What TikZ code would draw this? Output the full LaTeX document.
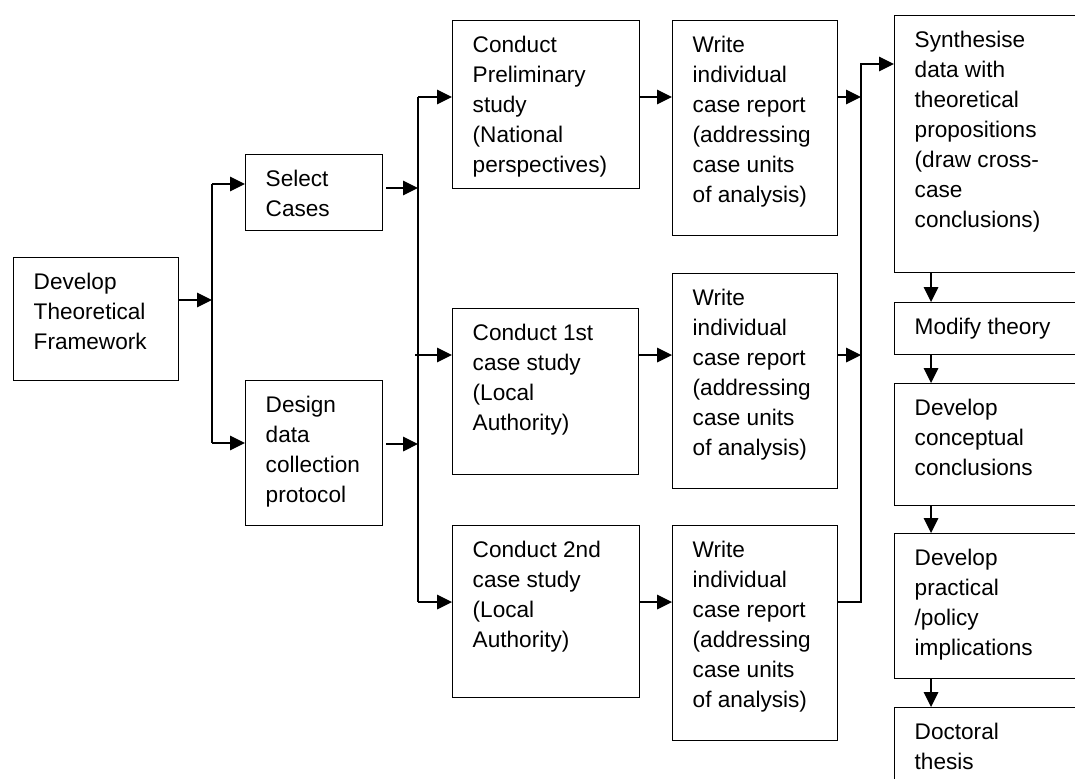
\documentclass[tikz,border=0pt]{standalone}
\usepackage{fontspec}
\setmainfont{Liberation Sans}
\usepackage{tikz}
\usetikzlibrary{arrows.meta}

% box text: width and height in pixels, text set from the top
\newcommand{\boxtext}[3]{\parbox[c][\dimexpr#2pt/2\relax][t]{\dimexpr#1pt/2-20pt\relax}{\raggedright\rule{0pt}{16pt}#3}}

\begin{document}
\begin{tikzpicture}[x=0.5pt,y=-0.5pt,line width=0.7pt,
		blk/.style={draw,anchor=north west,inner xsep=10pt,inner ysep=0pt,
			font=\fontsize{11.3}{15}\selectfont},
		arr/.style={-{Triangle[length=7.5pt,width=7.3pt]}}]
		\useasboundingbox (0,0) rectangle (1075,778);
		\clip (0,0) rectangle (1075,778);
		%
		\node[blk] (dev) at (13,257) {\boxtext{165}{123}{Develop\\Theoretical\\Framework}};
		\node[blk] (sel) at (245,154) {\boxtext{137}{76}{Select\\Cases}};
		\node[blk] (des) at (245,380) {\boxtext{137}{145}{Design\\data\\collection\\protocol}};
		\node[blk] (cpre) at (452,20) {\boxtext{187}{168}{Conduct\\Preliminary\\study\\(National\\perspectives)}};
		\node[blk] (c1) at (452,308) {\boxtext{186}{166}{Conduct 1st\\case study\\(Local\\Authority)}};
		\node[blk] (c2) at (452,525) {\boxtext{187}{172}{Conduct 2nd\\case study\\(Local\\Authority)}};
		\node[blk] (w1) at (672,20) {\boxtext{165}{215}{Write\\individual\\case report\\(addressing\\case units\\of analysis)}};
		\node[blk] (w2) at (672,273) {\boxtext{165}{215}{Write\\individual\\case report\\(addressing\\case units\\of analysis)}};
		\node[blk] (w3) at (672,525) {\boxtext{165}{215}{Write\\individual\\case report\\(addressing\\case units\\of analysis)}};
		\node[blk] (syn) at (894,15) {\boxtext{200}{257}{Synthesise\\data with\\theoretical\\propositions\\(draw cross-\\case\\conclusions)}};
		\node[blk] (mod) at (894,302) {\boxtext{200}{52}{Modify theory}};
		\node[blk] (con) at (894,383) {\boxtext{200}{122}{Develop\\conceptual\\conclusions}};
		\node[blk] (pra) at (894,533) {\boxtext{200}{145}{Develop\\practical\\/policy\\implications}};
		\node[blk] (doc) at (894,707) {\boxtext{200}{110}{Doctoral\\thesis}};
		%
		\coordinate (r1) at (0,97);
		\coordinate (r2) at (0,355);
		\coordinate (r3) at (0,602);
		\coordinate (s1) at (0,188);
		\coordinate (s2) at (0,444);
		\coordinate (bA) at (212,300);
		\coordinate (bAt) at (212,184);
		\coordinate (bAb) at (212,443);
		\coordinate (bB) at (418,0);
		\coordinate (bC) at (861,64);
		\coordinate (col) at (931,0);
		%
		\draw[arr] (dev.east |- bA) -- (bA);
		\draw (bAt) -- (bAb);
		\draw[arr] (bAt) -- (sel.west |- bAt);
		\draw[arr] (bAb) -- (des.west |- bAb);
		%
		\draw[arr,shorten <=1.5pt] (sel.east |- s1) -- (bB |- s1);
		\draw[arr,shorten <=1.5pt] (des.east |- s2) -- (bB |- s2);
		\draw (bB |- r1) -- (bB |- r3);
		\draw[arr] (bB |- r1) -- (cpre.west |- r1);
		\draw[arr,shorten <=-1.5pt] (bB |- r2) -- (c1.west |- r2);
		\draw[arr] (bB |- r3) -- (c2.west |- r3);
		%
		\draw[arr] (cpre.east |- r1) -- (w1.west |- r1);
		\draw[arr] (c1.east |- r2) -- (w2.west |- r2);
		\draw[arr] (c2.east |- r3) -- (w3.west |- r3);
		%
		\draw[arr] (w1.east |- r1) -- (bC |- r1);
		\draw[arr] (w2.east |- r2) -- (bC |- r2);
		\draw[arr] (w3.east |- r3) -| (bC) -- (syn.west |- bC);
		%
		\draw[arr] (syn.south -| col) -- (mod.north -| col);
		\draw[arr] (mod.south -| col) -- (con.north -| col);
		\draw[arr] (con.south -| col) -- (pra.north -| col);
		\draw[arr] (pra.south -| col) -- (doc.north -| col);
	\end{tikzpicture}
\end{document}
